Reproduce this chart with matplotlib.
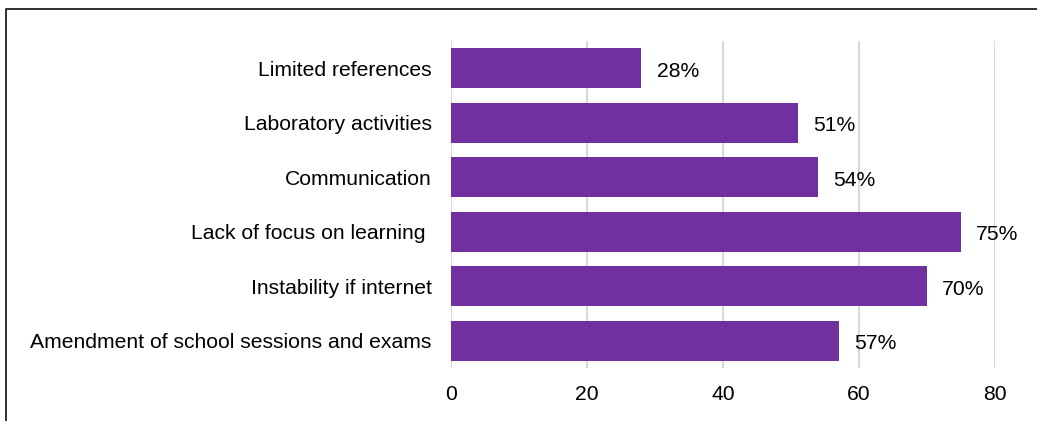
import matplotlib.pyplot as plt
from matplotlib.lines import Line2D

plt.rcParams['font.family'] = ['Liberation Sans', 'DejaVu Sans']

kategori = [
    "Limited references",
    "Laboratory activities",
    "Communication",
    "Lack of focus on learning ",
    "Instability if internet",
    "Amendment of school sessions and exams",
]
persen = [28, 51, 54, 75, 70, 57]
ticks_x = [0, 20, 40, 60, 80]

W, H = 1037, 421
fig = plt.figure(figsize=(W / 100, H / 100), dpi=100)
ax = fig.add_axes([451 / W, 1 - 368 / H, (995 - 451) / W, (368 - 41) / H])

posisi = list(range(len(kategori)))
ax.barh(posisi, persen, height=0.73, color="#7030A0", zorder=3)
for y, v in zip(posisi, persen):
    ax.annotate(f"{v}%", (v, y), xytext=(11, -2), textcoords="offset points",
                ha="left", va="center", fontsize=15.2, color="black")

ax.set_xlim(0, 80)
ax.set_ylim(len(kategori) - 0.5, -0.5)
ax.set_xticks(ticks_x)
ax.set_yticks(posisi)
ax.set_yticklabels(kategori)
ax.grid(axis="x", color="#d9d9d9", linewidth=1.5, zorder=0)
for s in ax.spines.values():
    s.set_visible(False)
ax.tick_params(axis="both", length=0, labelsize=15.2, colors="black")
ax.tick_params(axis="x", pad=12)
ax.tick_params(axis="y", pad=14)

# outer frame on the left and top edges
fig.add_artist(Line2D([6 / W, 6 / W, 1], [0, 1 - 9 / H, 1 - 9 / H],
                      transform=fig.transFigure, color="#222222", linewidth=1.3))

fig.savefig("out.png", dpi=100)
